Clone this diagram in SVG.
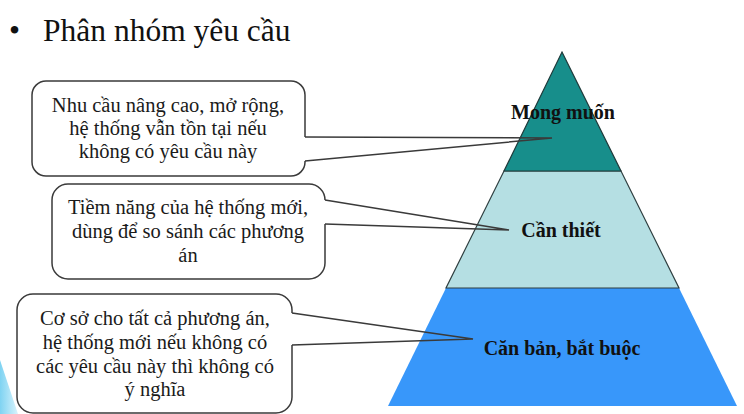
<svg xmlns="http://www.w3.org/2000/svg" width="744" height="414" viewBox="0 0 744 414">
  <defs>
    <linearGradient id="deco" x1="0" y1="0" x2="1" y2="0">
      <stop offset="0" stop-color="#7fd3f2"/>
      <stop offset="1" stop-color="#d8f3fc"/>
    </linearGradient>
  </defs>
  <style>
    .box { fill: #ffffff; stroke: #3a3a3a; stroke-width: 1.5; }
    .conn { fill: none; stroke: #3a3a3a; stroke-width: 1.5; stroke-linejoin: miter; }
    .txt { font-family: "Liberation Serif", "Times New Roman", serif; font-size: 20.5px; fill: #1a1a1a; text-anchor: middle; }
    .lbl { font-family: "Liberation Serif", "Times New Roman", serif; font-size: 20px; font-weight: bold; fill: #111111; text-anchor: middle; }
    .title { font-family: "Liberation Serif", "Times New Roman", serif; font-size: 31.5px; fill: #111111; }
  </style>
  <rect width="744" height="414" fill="#ffffff"/>
  <polygon points="0,360 18,414 0,414" fill="url(#deco)"/>

  <g id="title">
    <text class="title" x="9" y="41">•</text>
    <text class="title" x="43" y="41">Phân nhóm yêu cầu</text>
  </g>

  <g id="tier-base">
    <polygon points="446,288 679,288 737,406 388,406" fill="#3897fa"/>
    <text class="lbl" x="562" y="355">Căn bản, bắt buộc</text>
  </g>
  <g id="tier-middle">
    <polygon points="504,171 621,171 679,288 446,288" fill="#b5dfe3" stroke="#2f3f40" stroke-width="1.2"/>
    <text class="lbl" x="561" y="237">Cần thiết</text>
  </g>
  <g id="tier-top">
    <polygon points="562,52 621,171 504,171" fill="#178e8b" stroke="#1f3a3a" stroke-width="1.2"/>
    <text class="lbl" x="563" y="119">Mong muốn</text>
  </g>

  <g id="callout-desired">
    <path class="box" d="M305,161 V162 A14,14 0 0 1 291,176 H46 A14,14 0 0 1 32,162 V95 A14,14 0 0 1 46,81 H291 A14,14 0 0 1 305,95 V137"/>
    <text class="txt" x="168" y="112">Nhu cầu nâng cao, mở rộng,</text>
    <text class="txt" x="168" y="135">hệ thống vẫn tồn tại nếu</text>
    <text class="txt" x="168" y="158">không có yêu cầu này</text>
  </g>
  <g id="callout-necessary">
    <path class="box" d="M325,224 V263 A16,16 0 0 1 309,279 H68 A16,16 0 0 1 52,263 V200 A16,16 0 0 1 68,184 H309 A16,16 0 0 1 325,200"/>
    <text class="txt" x="188" y="214">Tiềm năng của hệ thống mới,</text>
    <text class="txt" x="188" y="238">dùng để so sánh các phương</text>
    <text class="txt" x="188" y="262">án</text>
  </g>
  <g id="callout-basic">
    <path class="box" d="M292,345 V397 A16,16 0 0 1 276,413 H33 A16,16 0 0 1 17,397 V310 A16,16 0 0 1 33,294 H276 A16,16 0 0 1 292,310 V313"/>
    <text class="txt" x="155" y="325">Cơ sở cho tất cả phương án,</text>
    <text class="txt" x="155" y="349">hệ thống mới nếu không có</text>
    <text class="txt" x="155" y="373">các yêu cầu này thì không có</text>
    <text class="txt" x="155" y="396">ý nghĩa</text>
  </g>

  <g id="connectors">
    <polyline class="conn" points="305,137 552,138 305,161"/>
    <polyline class="conn" points="325,200 509,230 325,224"/>
    <polyline class="conn" points="292,313 473,339 292,345"/>
  </g>
</svg>
